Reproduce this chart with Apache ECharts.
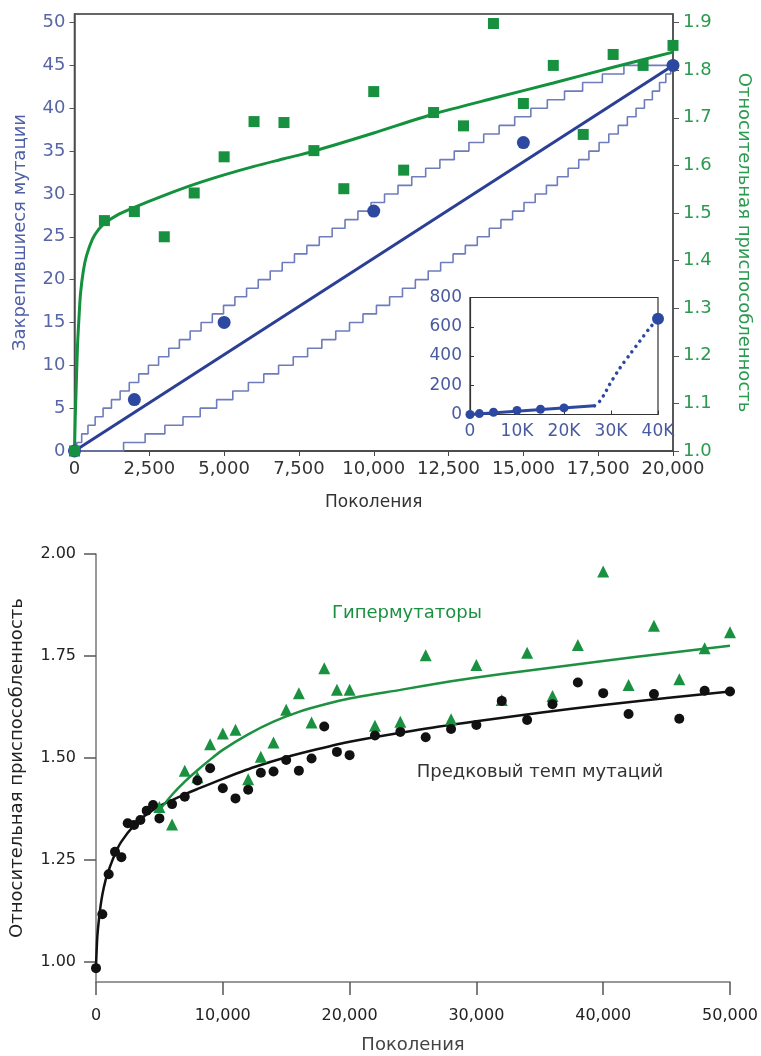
<!DOCTYPE html>
<html>
<head>
<meta charset="utf-8">
<script src="https://cdn.jsdelivr.net/npm/echarts@6/dist/echarts.min.js"></script>
<style>
html,body{margin:0;padding:0;background:#fff;}
#c{width:761px;height:1056px;}
</style>
</head>
<body>
<div id="c"></div>
<script>
// ---------- Top chart data ----------
const fixedGen = [0, 2000, 5000, 10000, 15000, 20000];
const fixedMut = [0, 6, 15, 28, 36, 45];
const trendLine = [[0, 0], [20000, 45]];
const upperStepX = [76,240,450,690,955,1235,1525,1830,2145,2470,2810,3150,3505,3865,4230,4605,4980,5360,5750,6140,6540,6940,7350,7765,8180,8610,9040,9470,9910,10360,10810,11270,11735,12210,12690,13180,13675,14190,14710,15250,15800,16375,16980,17640,18360];
const lowerStepX = [1640,2360,3020,3625,4200,4750,5290,5810,6325,6820,7310,7790,8265,8730,9190,9640,10090,10530,10960,11390,11820,12235,12650,13060,13460,13860,14250,14640,15020,15395,15770,16135,16495,16850,17190,17530,17855,18170,18475,18765,19045,19310,19550,19760,19924];
const fitnessGen = [0,1000,2000,3000,4000,5000,6000,7000,8000,9000,10000,11000,12000,13000,14000,15000,16000,17000,18000,19000,20000];
const fitness = [1.0,1.484,1.503,1.45,1.542,1.618,1.692,1.69,1.631,1.551,1.755,1.59,1.711,1.683,1.898,1.73,1.81,1.665,1.833,1.81,1.852];
const fitCurveGen = [0,25,50,100,150,200,300,400,600,800,1000,1500,2000,3000,4000,5000,6000,7000,8000,10000,12000,14000,16000,18000,20000];
const fitCurveVal = [1.0,1.07,1.12,1.22,1.28,1.33,1.38,1.41,1.445,1.465,1.478,1.498,1.512,1.537,1.56,1.58,1.598,1.614,1.63,1.668,1.708,1.741,1.773,1.806,1.838];
const leftTicks = [0,5,10,15,20,25,30,35,40,45,50];
const rightTicks = [1.0,1.1,1.2,1.3,1.4,1.5,1.6,1.7,1.8,1.9];

// ---------- Inset data ----------
const insetGen = [0, 2000, 5000, 10000, 15000, 20000, 40000];
const insetMut = [0, 6, 15, 28, 36, 45, 655];
const insetSolid = [[0, 0], [26500, 59.6]];
const insetDotGen = [26500, 27600, 28600, 29700, 31900, 34000, 36100, 38200, 40000];
const insetDotVal = [59.6, 90, 140, 205, 318, 410, 500, 590, 655];

// ---------- Bottom chart data ----------
const ancGen = [0,500,1000,1500,2000,2500,3000,3500,4000,4500,5000,6000,7000,8000,9000,10000,11000,12000,13000,14000,15000,16000,17000,18000,19000,20000,22000,24000,26000,28000,30000,32000,34000,36000,38000,40000,42000,44000,46000,48000,50000];
const ancVal = [0.985,1.117,1.215,1.270,1.257,1.340,1.336,1.348,1.371,1.385,1.352,1.387,1.405,1.445,1.475,1.426,1.401,1.422,1.464,1.467,1.495,1.469,1.499,1.577,1.515,1.507,1.555,1.564,1.551,1.571,1.581,1.640,1.593,1.632,1.685,1.659,1.608,1.657,1.596,1.665,1.663];
const hypGen = [5000,6000,7000,8000,9000,10000,11000,12000,13000,14000,15000,16000,17000,18000,19000,20000,22000,24000,26000,28000,30000,32000,34000,36000,38000,40000,42000,44000,46000,48000,50000];
const hypVal = [1.38,1.337,1.469,1.453,1.534,1.560,1.569,1.448,1.503,1.538,1.618,1.659,1.587,1.720,1.667,1.667,1.579,1.589,1.752,1.595,1.728,1.642,1.758,1.652,1.777,1.957,1.679,1.824,1.693,1.769,1.808];
const ancCurveGen = [0,100,200,350,500,750,1000,1500,2000,3000,4000,5000,6000,7000,8000,10000,12500,15000,17500,20000,25000,30000,35000,40000,45000,50000];
const ancCurveVal = [0.99,1.06,1.095,1.135,1.165,1.20,1.225,1.265,1.295,1.335,1.362,1.382,1.397,1.411,1.424,1.449,1.478,1.502,1.522,1.54,1.567,1.59,1.611,1.63,1.647,1.663];
const hypCurveGen = [5000,6000,7000,8000,9000,10000,12000,14000,16000,18000,20000,24000,28000,32000,36000,40000,45000,50000];
const hypCurveVal = [1.372,1.41,1.442,1.47,1.496,1.52,1.558,1.589,1.613,1.631,1.646,1.667,1.688,1.706,1.722,1.738,1.757,1.775];
const bottomTicks = [1.0,1.25,1.5,1.75,2.0];

const FONT = 'DejaVu Sans';
const zip = (a, b) => a.map((v, i) => [v, b[i]]);
const comma = v => String(v).replace(/\B(?=(\d{3})+(?!\d))/g, ',');
const stepData = xs => [[0, 0]].concat(xs.map((x, i) => [x, i + 1])).concat([[20000, xs.length]]);

const chart = echarts.init(document.getElementById('c'), null, {renderer: 'canvas'});
chart.setOption({
  backgroundColor: '#fff',
  animation: false,
  grid: [
    {left: 74.5, top: 14, width: 604, height: 437, show: true, borderColor: '#333', borderWidth: 1.5, backgroundColor: 'transparent'},
    {left: 470, top: 297.5, width: 188, height: 117, show: true, borderColor: '#333', borderWidth: 1.2, backgroundColor: '#fff'},
    {left: 95, top: 554, width: 639, height: 428}
  ],
  xAxis: [
    {type: 'value', gridIndex: 0, min: 0, max: 20000, interval: 2500,
     axisLine: {lineStyle: {color: '#444', width: 1.5}},
     axisTick: {show: true, length: 5, lineStyle: {color: '#444'}},
     axisLabel: {color: '#333', fontSize: 18, fontFamily: FONT, margin: 9, formatter: comma},
     splitLine: {show: false},
     name: 'Поколения', nameLocation: 'middle', nameGap: 43,
     nameTextStyle: {color: '#333', fontSize: 17, fontFamily: FONT}},
    {type: 'value', gridIndex: 1, min: 0, max: 40000, interval: 10000,
     axisLine: {lineStyle: {color: '#333', width: 1.2}},
     axisTick: {show: true, inside: true, length: 4, lineStyle: {color: '#333'}},
     axisLabel: {color: '#4a5aa0', fontSize: 17, fontFamily: FONT, margin: 9,
                 formatter: v => v === 0 ? '0' : (v / 1000) + 'K'},
     splitLine: {show: false}},
    {type: 'value', gridIndex: 2, min: 0, max: 50000, interval: 10000,
     axisLine: {lineStyle: {color: '#777', width: 1.5}},
     axisTick: {show: true, length: 13, lineStyle: {color: '#555', width: 1.5}},
     axisLabel: {color: '#222', fontSize: 16, fontFamily: FONT, margin: 26, formatter: comma},
     splitLine: {show: false},
     name: 'Поколения', nameLocation: 'middle', nameGap: 54,
     nameTextStyle: {color: '#444', fontSize: 18, fontFamily: FONT}}
  ],
  yAxis: [
    {type: 'value', gridIndex: 0, min: 0, max: 51, position: 'left',
     axisLine: {show: true, lineStyle: {color: '#555', width: 1.5}},
     axisTick: {show: true, length: 5, customValues: leftTicks, lineStyle: {color: '#555'}},
     axisLabel: {color: '#5866a6', fontSize: 18, fontFamily: FONT, margin: 9, customValues: leftTicks},
     splitLine: {show: false},
     name: 'Закрепившиеся мутации', nameLocation: 'middle', nameRotate: 90, nameGap: 45,
     nameTextStyle: {color: '#5060a8', fontSize: 18, fontFamily: FONT}},
    {type: 'value', gridIndex: 0, min: 1.0, max: 1.918, position: 'right',
     axisLine: {show: true, lineStyle: {color: '#555', width: 1.5}},
     axisTick: {show: true, length: 6, customValues: rightTicks, lineStyle: {color: '#555'}},
     axisLabel: {color: '#2a9a4e', fontSize: 18, fontFamily: FONT, margin: 10, customValues: rightTicks,
                 formatter: v => v.toFixed(1)},
     splitLine: {show: false},
     name: 'Относительная приспособленность', nameLocation: 'middle', nameRotate: -90, nameGap: 62,
     nameTextStyle: {color: '#2a9a4e', fontSize: 18, fontFamily: FONT, padding: [0, 0, 0, 20]}},
    {type: 'value', gridIndex: 1, min: 0, max: 800, interval: 200,
     axisLine: {show: true, lineStyle: {color: '#333', width: 1.2}},
     axisTick: {show: true, inside: true, length: 4, lineStyle: {color: '#333'}},
     axisLabel: {color: '#4a5aa0', fontSize: 17, fontFamily: FONT, margin: 8},
     splitLine: {show: false}},
    {type: 'value', gridIndex: 2, min: 0.951, max: 2.0,
     axisLine: {show: true, lineStyle: {color: '#777', width: 1.5}},
     axisTick: {show: true, length: 12, customValues: bottomTicks, lineStyle: {color: '#555', width: 1.5}},
     axisLabel: {color: '#222', fontSize: 16, fontFamily: FONT, margin: 20, customValues: bottomTicks,
                 formatter: v => v.toFixed(2)},
     splitLine: {show: false},
     name: 'Относительная приспособленность', nameLocation: 'middle', nameRotate: 90, nameGap: 70,
     nameTextStyle: {color: '#222', fontSize: 18, fontFamily: FONT}}
  ],
  graphic: [
    {type: 'text', x: 407, y: 613, z: 100,
     style: {text: 'Гипермутаторы', font: '18px "DejaVu Sans"', fill: '#1a9140', align: 'center', verticalAlign: 'middle'}},
    {type: 'text', x: 540, y: 772, z: 100,
     style: {text: 'Предковый темп мутаций', font: '18px "DejaVu Sans"', fill: '#333', align: 'center', verticalAlign: 'middle'}}
  ],
  series: [
    // ---- top chart ----
    {type: 'line', xAxisIndex: 0, yAxisIndex: 0, data: stepData(lowerStepX), step: 'end', showSymbol: false, symbol: 'none',
     clip: false, lineStyle: {color: '#6e7cbc', width: 1.6}, z: 2},
    {type: 'line', xAxisIndex: 0, yAxisIndex: 0, data: stepData(upperStepX), step: 'end', showSymbol: false, symbol: 'none',
     clip: false, lineStyle: {color: '#6e7cbc', width: 1.6}, z: 2},
    {type: 'line', xAxisIndex: 0, yAxisIndex: 0, data: trendLine, symbol: 'none', clip: false,
     lineStyle: {color: '#2b3f95', width: 3}, z: 3},
    {type: 'line', xAxisIndex: 0, yAxisIndex: 1, data: zip(fitCurveGen, fitCurveVal), symbol: 'none', clip: false,
     smooth: 0.25, lineStyle: {color: '#13913d', width: 3}, z: 3},
    {type: 'scatter', xAxisIndex: 0, yAxisIndex: 0, data: zip(fixedGen, fixedMut), symbol: 'circle', symbolSize: 13,
     itemStyle: {color: '#2d48a0', opacity: 1}, z: 4},
    {type: 'scatter', xAxisIndex: 0, yAxisIndex: 1, data: zip(fitnessGen, fitness), symbol: 'rect', symbolSize: 11,
     itemStyle: {color: '#17913f', opacity: 1}, z: 5},
    // ---- inset ----
    {type: 'line', xAxisIndex: 1, yAxisIndex: 2, data: insetSolid, symbol: 'none', clip: false,
     lineStyle: {color: '#2d48a0', width: 3}, z: 10},
    {type: 'line', xAxisIndex: 1, yAxisIndex: 2, data: zip(insetDotGen, insetDotVal), symbol: 'none', clip: false,
     smooth: 0.3, lineStyle: {color: '#2d48a0', width: 3.5, type: [0.1, 6.5], cap: 'round'}, z: 10},
    {type: 'scatter', xAxisIndex: 1, yAxisIndex: 2, data: zip(insetGen, insetMut), symbol: 'circle',
     symbolSize: (v, p) => p.dataIndex === insetGen.length - 1 ? 12 : 9,
     itemStyle: {color: '#2d48a0', opacity: 1}, z: 11},
    // ---- bottom chart ----
    {type: 'line', xAxisIndex: 2, yAxisIndex: 3, data: zip(ancCurveGen, ancCurveVal), symbol: 'none', clip: false,
     smooth: 0.25, lineStyle: {color: '#111', width: 2.5}, z: 3},
    {type: 'line', xAxisIndex: 2, yAxisIndex: 3, data: zip(hypCurveGen, hypCurveVal), symbol: 'none', clip: false,
     smooth: 0.25, lineStyle: {color: '#1d9140', width: 2.5}, z: 3},
    {type: 'scatter', xAxisIndex: 2, yAxisIndex: 3, data: zip(hypGen, hypVal), symbol: 'triangle', symbolSize: 12,
     itemStyle: {color: '#1a9140', opacity: 1}, z: 4},
    {type: 'scatter', xAxisIndex: 2, yAxisIndex: 3, data: zip(ancGen, ancVal), symbol: 'circle', symbolSize: 10,
     itemStyle: {color: '#111', opacity: 1}, z: 5}
  ]
});
</script>
</body>
</html>
